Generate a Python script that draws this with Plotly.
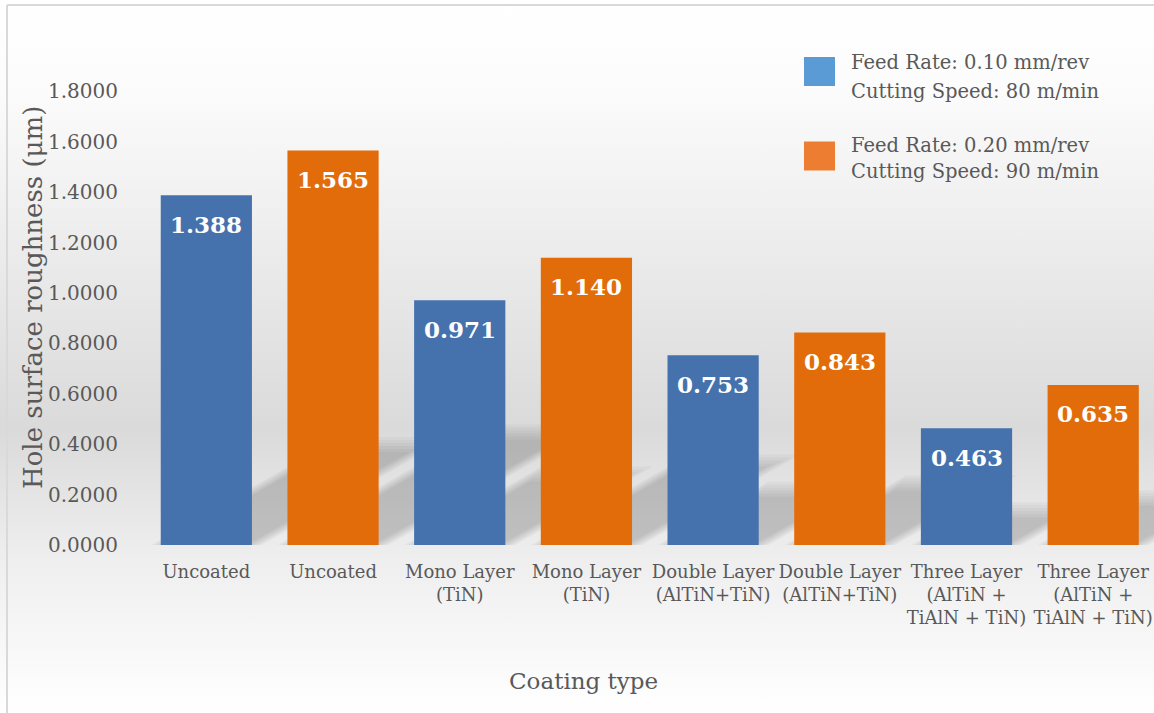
import base64
import plotly.graph_objects as go

# ---- data ----
categories = ["Uncoated", "Uncoated", "Mono Layer<br>(TiN)", "Mono Layer<br>(TiN)",
              "Double Layer<br>(AlTiN+TiN)", "Double Layer<br>(AlTiN+TiN)",
              "Three Layer<br>(AlTiN +<br>TiAlN + TiN)", "Three Layer<br>(AlTiN +<br>TiAlN + TiN)"]
series1_name = ["Feed Rate: 0.10 mm/rev", "Cutting Speed: 80 m/min"]
series2_name = ["Feed Rate: 0.20 mm/rev", "Cutting Speed: 90 m/min"]
series1_pos = [0, 2, 4, 6]
series1_vals = [1.388, 0.971, 0.753, 0.463]
series2_pos = [1, 3, 5, 7]
series2_vals = [1.565, 1.140, 0.843, 0.635]
y_ticks = [0.0, 0.2, 0.4, 0.6, 0.8, 1.0, 1.2, 1.4, 1.6, 1.8]

FONT = "DejaVu Serif"
GREY = "#595959"
BAR_BLUE = "#4572AD"
BAR_ORANGE = "#E36C0A"
LEG_BLUE = "#5B9BD5"
LEG_ORANGE = "#ED7D31"
BAR_W = 0.72

W, H = 1154, 713
L, R, T, B = 143, 0, 41, 168
XR = [-0.5, 7.48]
YR = [0, 2.0]
pw = W - L - R
ph = H - T - B
x_per_px = (XR[1] - XR[0]) / pw
y_per_px = (YR[1] - YR[0]) / ph


def px(xpix):
    return (xpix - L) / pw


def py(ypix):
    return (H - B - ypix) / ph


fig = go.Figure()

# soft perspective shadows (derived from bar values)
SKEW = 1.75   # horizontal px per vertical px
K = 0.28      # shadow height fraction
for xs, ys in ((series1_pos, series1_vals), (series2_pos, series2_vals)):
    for xv, yv in zip(xs, ys):
        hp = K * yv / y_per_px  # shadow height in px
        for grow in (10, 7, 4, 1, -2, -5):
            xl = xv - BAR_W / 2 - grow * x_per_px
            xr = xv + BAR_W / 2 + grow * x_per_px
            h_px = hp + grow
            dx = SKEW * h_px * x_per_px
            yt = h_px * y_per_px
            path = (f"M {xl},0 L {xr},0 L {xr + dx},{yt} L {xl + dx},{yt} Z")
            fig.add_shape(type="path", path=path, xref="x", yref="y", layer="below",
                          fillcolor="rgba(0,0,0,0.032)", line=dict(width=0))

fig.add_trace(go.Bar(x=series1_pos, y=series1_vals, name=" ".join(series1_name), width=BAR_W,
                     marker=dict(color=BAR_BLUE, line=dict(width=0)), showlegend=False))
fig.add_trace(go.Bar(x=series2_pos, y=series2_vals, name=" ".join(series2_name), width=BAR_W,
                     marker=dict(color=BAR_ORANGE, line=dict(width=0)), showlegend=False))

# data labels
for xs, ys in ((series1_pos, series1_vals), (series2_pos, series2_vals)):
    for xv, yv in zip(xs, ys):
        fig.add_annotation(x=xv, y=yv, xref="x", yref="y", text=f"<b>{yv:.3f}</b>",
                           showarrow=False, yanchor="middle", yshift=-29,
                           font=dict(family=FONT, size=23, color="white"))

# background gradient (SVG)
svg = f'''<svg xmlns="http://www.w3.org/2000/svg" width="{W}" height="{H}" preserveAspectRatio="none">
<defs><linearGradient id="g" x1="0" y1="0" x2="0" y2="1">
<stop offset="0" stop-color="#ffffff"/>
<stop offset="0.12" stop-color="#fcfcfc"/>
<stop offset="0.6" stop-color="#dadada"/>
<stop offset="0.78" stop-color="#eeeeee"/>
<stop offset="1" stop-color="#ffffff"/>
</linearGradient></defs>
<rect width="{W}" height="{H}" fill="url(#g)"/>
</svg>'''
src = "data:image/svg+xml;base64," + base64.b64encode(svg.encode()).decode()
fig.add_layout_image(dict(source=src, xref="paper", yref="paper",
                          x=-L / pw, y=1 + T / ph,
                          sizex=W / pw, sizey=H / ph,
                          xanchor="left", yanchor="top", sizing="stretch", layer="below"))

# chart border (left & top)
fig.add_shape(type="line", xref="paper", yref="paper", x0=px(7), x1=px(7), y0=py(5), y1=py(720),
              line=dict(color="#d9d9d9", width=2))
fig.add_shape(type="line", xref="paper", yref="paper", x0=px(7), x1=px(1160), y0=py(5), y1=py(5),
              line=dict(color="#d9d9d9", width=2))

# legend (manual, large swatches)
for lines, col, yc, ylines in ((series1_name, LEG_BLUE, 71.5, (63, 91)),
                               (series2_name, LEG_ORANGE, 156, (145, 172))):
    fig.add_shape(type="rect", xref="paper", yref="paper", x0=px(804), x1=px(835),
                  y0=py(yc + 14.5), y1=py(yc - 14.5), fillcolor=col, line=dict(width=0))
    for txt, yl in zip(lines, ylines):
        fig.add_annotation(xref="paper", yref="paper", x=px(849), y=py(yl), text=txt,
                           showarrow=False, xanchor="left", yanchor="middle", align="left",
                           font=dict(family=FONT, size=19.5, color=GREY))

# axis titles
fig.add_annotation(xref="paper", yref="paper", x=px(33), y=py(298), text="Hole surface roughness (μm)",
                   textangle=-90, showarrow=False, xanchor="center", yanchor="middle",
                   font=dict(family=FONT, size=26, color=GREY))
fig.add_annotation(xref="paper", yref="paper", x=px(583), y=py(681), text="Coating type",
                   showarrow=False, xanchor="center", yanchor="middle",
                   font=dict(family=FONT, size=23, color=GREY))

fig.update_layout(
    width=W, height=H, margin=dict(l=L, r=R, t=T, b=B),
    paper_bgcolor="rgba(0,0,0,0)", plot_bgcolor="rgba(0,0,0,0)",
    barmode="overlay", showlegend=False,
    font=dict(family=FONT, color=GREY),
    xaxis=dict(range=XR, tickmode="array", tickvals=list(range(8)), ticktext=categories,
               showgrid=False, zeroline=False, showline=False, ticks="outside", ticklen=10,
               tickangle=0,
               tickcolor="rgba(0,0,0,0)", tickfont=dict(family=FONT, size=18, color=GREY)),
    yaxis=dict(range=YR, tickmode="array", tickvals=y_ticks,
               ticktext=[f"{v:.4f}" for v in y_ticks],
               showgrid=False, zeroline=False, showline=False, ticks="outside", ticklen=20,
               tickcolor="rgba(0,0,0,0)", tickfont=dict(family=FONT, size=20, color=GREY)),
)

fig.write_html("out.html")
